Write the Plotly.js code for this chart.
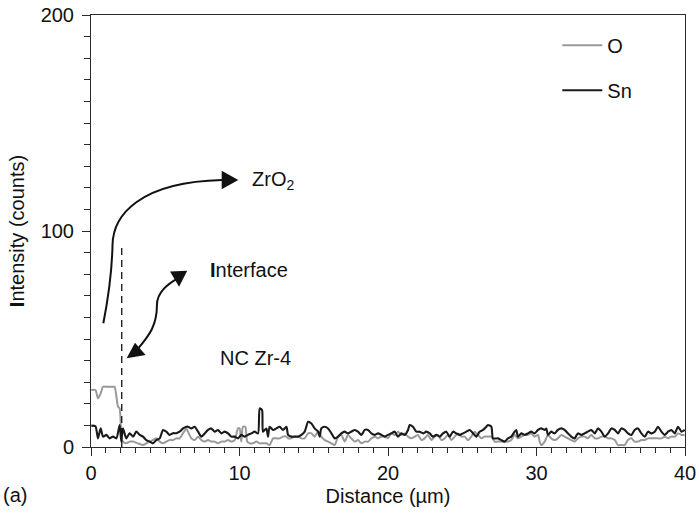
<!DOCTYPE html>
<html>
<head>
<meta charset="utf-8">
<script src="https://cdn.plot.ly/plotly-3.0.1.min.js"></script>
<style>html,body{margin:0;padding:0;background:#fff;}#chart{width:699px;height:517px;}</style>
</head>
<body>
<div id="chart"></div>
<script>
// Distance (µm) and intensity (counts)
const snX = [0.02,0.3,0.47,0.65,0.81,1.03,1.26,1.48,1.71,1.93,2.04,2.15,2.38,2.6,2.83,3.05,3.28,3.5,3.72,3.95,4.17,4.4,4.63,4.85,5.07,5.3,5.52,5.74,5.97,6.2,6.42,
  6.53,6.76,6.98,7.21,7.43,7.66,7.88,8.1,8.33,8.55,8.78,9.0,9.23,9.45,9.67,9.9,10.12,10.35,10.57,10.8,11.02,11.25,11.36,11.52,11.58,11.81,11.92,12.03,12.26,12.48,12.71,12.93,13.16,
  13.27,13.49,13.72,13.94,14.17,14.39,14.62,14.84,15.06,15.29,15.4,15.51,15.74,15.96,16.19,16.41,16.64,16.86,17.08,17.31,17.53,17.76,17.98,18.21,18.43,18.66,18.88,19.1,19.33,19.55,19.78,
  20.0,20.22,20.45,20.67,20.9,21.12,21.35,21.46,21.68,21.91,22.13,22.36,22.58,22.81,23.03,23.26,23.48,23.7,23.93,24.15,24.38,24.6,24.83,25.05,25.28,25.5,25.73,25.95,26.17,26.4,26.62,
  26.73,26.96,27.07,27.41,27.63,27.85,28.08,28.3,28.53,28.64,28.75,28.98,29.2,29.42,29.65,29.87,30.1,30.32,30.55,30.66,30.77,30.99,31.22,31.44,31.67,31.89,32.12,32.34,32.56,32.79,33.01,33.24,33.46,
  33.69,33.92,34.14,34.37,34.59,34.82,35.04,35.27,35.49,35.71,35.94,36.16,36.39,36.61,36.84,37.06,37.29,37.51,37.73,37.96,38.18,38.41,38.63,38.86,39.08,39.31,39.53,39.76,39.98];
const snY = [9.9,9.6,4.0,8.6,4.8,5.6,4.0,4.8,4.0,10.2,2.5,8.6,4.0,6.4,4.8,7.1,5.6,4.8,3.2,2.5,1.7,3.2,4.0,7.9,7.1,5.6,6.4,6.4,7.1,8.6,9.4,
  9.4,8.6,9.4,7.1,4.8,6.3,7.9,8.6,7.1,7.9,6.3,7.1,6.3,4.8,4.8,4.0,5.6,4.8,5.6,6.3,7.1,6.3,17.9,17.1,7.1,8.6,4.8,9.4,7.9,8.6,9.4,7.9,9.4,
  5.6,4.8,4.8,4.8,5.6,7.1,11.7,10.9,8.6,7.1,4.8,8.6,9.4,8.6,6.3,4.0,4.8,6.3,7.1,6.3,7.1,7.9,7.1,5.6,7.9,7.9,6.3,5.6,6.3,5.6,4.8,
  5.6,6.3,7.1,4.8,6.3,5.6,7.9,10.2,9.4,7.1,7.1,6.3,7.1,6.3,4.8,5.6,4.8,6.3,7.1,4.8,7.1,6.3,5.6,6.3,7.1,7.9,6.3,4.8,7.1,7.9,9.4,
  10.2,9.4,4.0,4.0,3.2,2.5,4.0,4.8,7.1,7.9,4.8,6.3,5.6,6.3,7.1,6.3,7.9,8.6,7.9,8.6,5.6,7.1,6.3,7.9,8.6,7.9,6.3,4.8,4.0,6.3,5.6,6.3,7.1,
  7.9,6.3,8.6,7.1,4.8,6.3,8.6,7.9,6.3,8.6,7.9,6.3,5.6,7.9,8.6,6.3,4.8,7.1,6.3,7.1,9.4,7.1,5.6,7.1,7.9,6.3,9.4,7.1,7.9];

const oX = [0.02,0.3,0.47,0.65,0.81,1.03,1.26,1.48,1.59,1.82,1.93,2.04,2.15,2.38,2.6,2.83,3.16,3.5,3.72,3.95,4.17,4.4,4.63,4.85,5.07,5.3,5.52,5.74,5.97,6.2,6.42,
  6.53,6.76,6.98,7.21,7.43,7.66,7.88,8.1,8.33,8.55,8.78,9.0,9.23,9.45,9.67,9.9,10.01,10.12,10.23,10.39,10.52,10.68,10.9,11.13,11.36,11.58,11.81,12.03,12.26,12.48,12.71,12.93,13.16,
  13.27,13.49,13.72,13.94,14.17,14.39,14.62,14.84,15.06,15.29,15.51,15.74,15.96,16.19,16.41,16.64,16.86,17.08,17.31,17.53,17.76,17.98,18.21,18.43,18.66,18.88,19.1,19.33,19.55,19.78,
  20.0,20.22,20.45,20.67,20.9,21.12,21.35,21.57,21.8,22.02,22.25,22.47,22.69,22.92,23.14,23.37,23.59,23.82,24.04,24.27,24.49,24.72,24.94,25.16,25.39,25.61,25.84,26.06,26.29,26.51,
  26.73,26.96,27.18,27.41,27.63,27.85,28.08,28.3,28.53,28.75,28.98,29.2,29.42,29.65,29.87,30.1,30.21,30.32,30.55,30.77,30.99,31.22,31.44,31.67,31.89,32.12,32.34,32.56,32.79,33.01,33.24,33.46,
  33.69,33.92,34.14,34.37,34.59,34.82,35.04,35.27,35.49,35.71,35.94,36.16,36.39,36.61,36.84,37.06,37.29,37.51,37.73,37.96,38.18,38.41,38.63,38.86,39.08,39.31,39.53,39.76,39.98];
const oY = [26.4,26.4,22.5,24.8,27.9,27.9,27.9,27.9,27.9,18.7,17.9,5.6,2.5,1.7,2.5,2.5,1.7,0.9,1.7,2.5,3.2,4.0,2.5,1.7,2.5,3.2,3.2,4.0,4.0,6.4,8.6,
  7.1,4.0,3.2,4.8,3.2,2.5,3.2,2.5,2.5,1.7,2.5,2.5,3.2,2.5,3.2,8.6,8.6,2.5,9.4,9.4,2.5,1.7,1.7,2.5,1.7,1.7,1.7,0.9,4.0,4.0,4.0,4.8,4.8,
  4.0,4.0,4.8,4.8,4.0,4.0,6.3,6.3,4.8,7.1,4.8,3.2,2.5,1.7,0.9,4.8,5.6,2.5,5.6,4.0,2.5,3.2,1.7,2.5,2.5,4.0,4.8,4.0,4.8,4.8,
  4.0,6.3,5.6,7.1,5.6,6.3,4.8,4.0,4.8,5.6,3.2,4.0,5.6,3.2,4.8,5.6,3.2,4.0,5.6,3.2,4.8,6.3,4.8,4.8,3.2,4.8,7.1,5.6,4.0,4.8,
  4.8,4.8,2.5,2.5,2.5,2.5,2.5,3.2,5.6,4.0,4.8,5.6,5.6,6.3,4.8,5.6,2.5,0.9,2.5,5.6,4.0,3.2,4.0,5.6,4.8,4.0,3.2,2.5,4.0,4.8,4.8,4.0,
  5.6,4.0,4.0,4.8,4.8,4.0,4.0,3.2,0.9,0.9,0.9,3.2,4.0,2.5,2.5,3.2,3.2,4.0,4.0,4.0,4.0,4.0,4.8,4.0,4.8,4.8,6.3,5.6,5.6];

const seriesNames = ['O', 'Sn'];
const xTickVals = [0, 10, 20, 30, 40];
const yTickVals = [0, 100, 200];
const interfaceX = 2.07;

const FONT = 'Liberation Sans, Arial, Helvetica, sans-serif';
const AX = '#2b2b2b';
const FS = 20;

const traces = [
  {x: oX, y: oY, name: seriesNames[0], mode: 'lines', legendgroup: 'a',
   line: {color: '#999999', width: 2, shape: 'spline', smoothing: 0.6}},
  {x: snX, y: snY, name: seriesNames[1], mode: 'lines', legendgroup: 'b',
   line: {color: '#1a1a1a', width: 2.1, shape: 'spline', smoothing: 0.6}}
];

const arrowLine = {color: '#111', width: 2};
const arrowFill = '#111';
const shapes = [
  {type: 'line', xref: 'x', yref: 'y', x0: interfaceX, x1: interfaceX, y0: 0, y1: 93.5,
   line: {color: '#111', width: 1.3, dash: '7px,5px'}},
  // curved arrow to ZrO2
  {type: 'path', xref: 'x', yref: 'y', path: 'M 0.83,57.3 C 1.14,68.1 1.41,82.0 1.45,93.5 C 1.48,107.4 3.30,122.7 8.82,123.6', line: arrowLine},
  {type: 'path', xref: 'x', yref: 'y', path: 'M 8.80,127.9 L 8.80,119.3 L 9.92,123.6 Z', line: {width: 0}, fillcolor: arrowFill},
  // double arrow for interface
  {type: 'path', xref: 'x', yref: 'y', path: 'M 3.10,45.0 C 3.97,51.9 4.44,56.5 4.44,65.7 C 4.44,71.8 5.19,75.5 5.86,78.2', line: arrowLine},
  {type: 'path', xref: 'x', yref: 'y', path: 'M 2.40,41.1 L 2.96,48.3 L 3.68,42.6 Z', line: {width: 0}, fillcolor: arrowFill},
  {type: 'path', xref: 'x', yref: 'y', path: 'M 5.32,81.2 L 6.48,81.6 L 5.93,74.2 Z', line: {width: 0}, fillcolor: arrowFill}
];

const annFont = {family: FONT, size: FS, color: '#111'};
const annotations = [
  {text: 'ZrO<sub>2</sub>', x: 10.7, y: 123.6, xref: 'x', yref: 'y', xanchor: 'left', yanchor: 'middle', showarrow: false, font: annFont},
  {text: '<b>I</b>nterface', x: 7.9, y: 81.9, xref: 'x', yref: 'y', xanchor: 'left', yanchor: 'middle', showarrow: false, font: annFont},
  {text: 'NC Zr-4', x: 8.55, y: 41.2, xref: 'x', yref: 'y', xanchor: 'left', yanchor: 'middle', showarrow: false, font: annFont},
  {text: '(a)', x: -0.152, y: -0.111, xref: 'paper', yref: 'paper', xanchor: 'left', yanchor: 'middle', showarrow: false, font: annFont}
];

const layout = {
  width: 699, height: 517,
  margin: {l: 91, r: 14, t: 15, b: 70},
  paper_bgcolor: '#fff', plot_bgcolor: '#fff',
  font: {family: FONT, size: FS, color: '#111'},
  showlegend: true,
  legend: {x: 0.785, y: 0.975, xanchor: 'left', yanchor: 'top', bgcolor: 'rgba(0,0,0,0)',
           font: {family: FONT, size: FS, color: '#111'}, traceorder: 'grouped', tracegroupgap: 16, itemwidth: 40},
  xaxis: {range: [0, 40], tickvals: xTickVals, ticktext: xTickVals.map(String), ticks: 'outside', ticklen: 8, tickwidth: 1, tickcolor: AX,
          minor: {dtick: 1, ticks: 'outside', ticklen: 5, tickwidth: 1, tickcolor: AX, showgrid: false},
          showline: true, linecolor: AX, linewidth: 1, mirror: true, showgrid: false, zeroline: false,
          tickfont: {family: FONT, size: FS, color: '#111'},
          title: {text: 'Distance (µm)', font: {family: FONT, size: FS, color: '#111'}, standoff: 5}},
  yaxis: {range: [0, 200], tickvals: yTickVals, ticktext: yTickVals.map(String), ticks: 'outside', ticklen: 8, tickwidth: 1, tickcolor: AX,
          minor: {dtick: 10, ticks: 'outside', ticklen: 6, tickwidth: 1, tickcolor: AX, showgrid: false},
          showline: true, linecolor: AX, linewidth: 1, mirror: true, showgrid: false, zeroline: false,
          ticklabelstandoff: 4,
          tickfont: {family: FONT, size: FS, color: '#111'},
          title: {text: '<b>I</b>ntensity (counts)', font: {family: FONT, size: FS, color: '#111'}, standoff: 10}},
  shapes: shapes,
  annotations: annotations
};

Plotly.newPlot('chart', traces, layout, {displayModeBar: false, staticPlot: true});
</script>
</body>
</html>
